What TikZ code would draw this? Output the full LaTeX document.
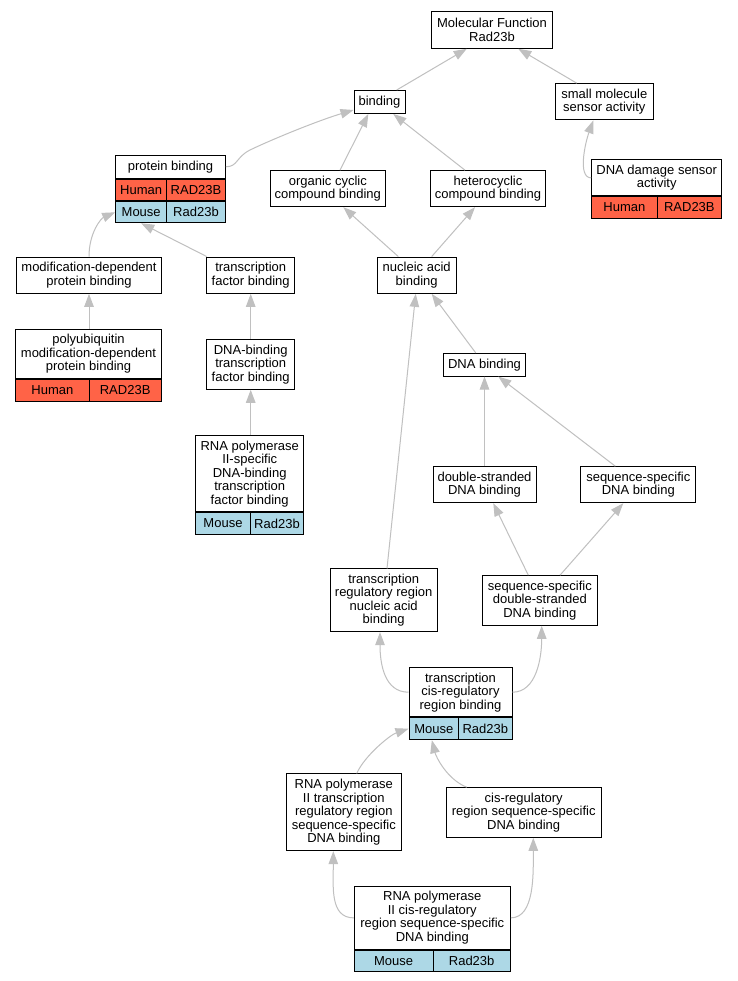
\documentclass[tikz,border=0pt]{standalone}
\usepackage{fontspec}
\setmainfont{Liberation Sans}
\usetikzlibrary{arrows.meta}
\definecolor{tomatoc}{RGB}{255,99,71}
\definecolor{lblue}{RGB}{173,216,230}
\definecolor{edgegray}{RGB}{192,192,192}
\newcommand\lbl{\fontsize{13}{13.5}\selectfont}
\tikzset{
  box/.style={draw=black, line width=1pt, fill=white, inner sep=0pt, align=center, font=\lbl},
  hum/.style={box, fill=tomatoc},
  mou/.style={box, fill=lblue},
  edge/.style={draw=edgegray, line width=1pt, -{Triangle[length=13pt,width=9.5pt]}},
}
\begin{document}
\begin{tikzpicture}[x=1pt,y=-1pt]
\useasboundingbox[fill=white] (0,0) rectangle (737,981);
% plain nodes
\node[box, minimum width=120.6pt, minimum height=36.6pt] (mf) at (492,30) {Molecular Function\\Rad23b};
\node[box, minimum width=51pt, minimum height=23pt] (bind) at (379.5,102) {binding};
\node[box, minimum width=98pt, minimum height=36.3pt] (sms) at (604.3,101.8) {small molecule\\sensor activity};
\node[box, minimum width=115pt, minimum height=36pt] (occ) at (327.8,188.7) {organic cyclic\\compound binding};
\node[box, minimum width=114.6pt, minimum height=36pt] (het) at (488,188.7) {heterocyclic\\compound binding};
\node[box, minimum width=144.6pt, minimum height=36.3pt] (mdpb) at (89,275.2) {modification-dependent\\protein binding};
\node[box, minimum width=88pt, minimum height=36.3pt] (tfb) at (250.7,275.2) {transcription\\factor binding};
\node[box, minimum width=79.3pt, minimum height=36.3pt] (nab) at (416.7,275.2) {nucleic acid\\binding};
\node[box, minimum width=88pt, minimum height=50pt] (dbtf) at (250.7,364.3) {DNA-binding\\transcription\\factor binding};
\node[box, minimum width=81.6pt, minimum height=22.7pt] (dnab) at (484.5,364.7) {DNA binding};
\node[box, minimum width=103pt, minimum height=36pt] (dsdb) at (484.5,484.7) {double-stranded\\DNA binding};
\node[box, minimum width=115.3pt, minimum height=36pt] (ssdb) at (638.3,484.7) {sequence-specific\\DNA binding};
\node[box, minimum width=106.7pt, minimum height=62.7pt] (trnab) at (383.7,600.3) {transcription\\regulatory region\\nucleic acid\\binding};
\node[box, minimum width=115pt, minimum height=49.6pt] (ssds) at (539.8,600.5) {sequence-specific\\double-stranded\\DNA binding};
\node[box, minimum width=115pt, minimum height=76.7pt] (rp2t) at (343.8,812.3) {RNA polymerase\\II transcription\\regulatory region\\sequence-specific\\DNA binding};
\node[box, minimum width=155.3pt, minimum height=49.6pt] (crss) at (523.7,812.5) {cis-regulatory\\region sequence-specific\\DNA binding};
% table nodes
\node[box, minimum width=109.6pt, minimum height=23pt] (pb) at (170.5,166.8) {protein binding};
\node[hum, minimum width=51pt, minimum height=21.5pt, anchor=north west] (pbh1) at (pb.south west) {Human};
\node[hum, minimum width=58.6pt, minimum height=21.5pt, anchor=north east] (pbh2) at (pb.south east) {RAD23B};
\node[mou, minimum width=51pt, minimum height=21pt, anchor=north west] (pbm1) at (pbh1.south west) {Mouse};
\node[mou, minimum width=58.6pt, minimum height=21pt, anchor=north east] (pbm2) at (pbh2.south east) {Rad23b};

\node[box, minimum width=130pt, minimum height=35.7pt] (dds) at (656.7,177.85) {DNA damage sensor\\activity};
\node[hum, minimum width=65.3pt, minimum height=21.6pt, anchor=north west] (ddsh1) at (dds.south west) {Human};
\node[hum, minimum width=64.7pt, minimum height=21.6pt, anchor=north east] (ddsh2) at (dds.south east) {RAD23B};

\node[box, minimum width=145.6pt, minimum height=49.7pt] (poly) at (88.5,353.85) {polyubiquitin\\modification-dependent\\protein binding};
\node[hum, minimum width=73.3pt, minimum height=21.3pt, anchor=north west] (polyh1) at (poly.south west) {Human};
\node[hum, minimum width=72.3pt, minimum height=21.3pt, anchor=north east] (polyh2) at (poly.south east) {RAD23B};

\node[box, minimum width=108pt, minimum height=76pt] (rp2s) at (249.7,473.7) {RNA polymerase\\II-specific\\DNA-binding\\transcription\\factor binding};
\node[mou, minimum width=54.6pt, minimum height=21.6pt, anchor=north west] (rp2sm1) at (rp2s.south west) {Mouse};
\node[mou, minimum width=53.4pt, minimum height=21.6pt, anchor=north east] (rp2sm2) at (rp2s.south east) {Rad23b};

\node[box, minimum width=103pt, minimum height=49pt] (tcrb) at (460.5,692.2) {transcription\\cis-regulatory\\region binding};
\node[mou, minimum width=49.7pt, minimum height=22pt, anchor=north west] (tcrbm1) at (tcrb.south west) {Mouse};
\node[mou, minimum width=53.3pt, minimum height=22pt, anchor=north east] (tcrbm2) at (tcrb.south east) {Rad23b};

\node[box, minimum width=156pt, minimum height=62.3pt] (rp2c) at (432.3,917.85) {RNA polymerase\\II cis-regulatory\\region sequence-specific\\DNA binding};
\node[mou, minimum width=78.7pt, minimum height=21.7pt, anchor=north west] (rp2cm1) at (rp2c.south west) {Mouse};
\node[mou, minimum width=77.3pt, minimum height=21.7pt, anchor=north east] (rp2cm2) at (rp2c.south east) {Rad23b};

% edges
\draw[edge] ([xshift=17.2pt]bind.north) -- ([xshift=-25.3pt]mf.south);
\draw[edge] ([xshift=-27.6pt]sms.north) -- ([xshift=26.3pt]mf.south);
\draw[edge] (dds.west) .. controls +(-14,0) and +(-8,22) .. ([xshift=-11pt]sms.south);
\draw[edge] (pb.east) .. controls +(12,0) and +(-14,7) .. (250,150) .. controls (275,138) and (320,120) .. ([yshift=-8pt]bind.west);
\draw[edge] ([xshift=12.2pt]occ.north) -- ([xshift=-11.2pt]bind.south);
\draw[edge] ([xshift=-23pt]het.north) -- ([xshift=13.8pt]bind.south);
\draw[edge] ([xshift=-18.4pt]nab.north) -- ([xshift=15.5pt]occ.south);
\draw[edge] ([xshift=15pt]nab.north) -- ([xshift=-13pt]het.south);
\draw[edge] (mdpb.north) .. controls +(0,-24) and +(-14,6) .. (pbm1.west);
\draw[edge] ([xshift=-44pt]tfb.north) -- (pbm1.south);
\draw[edge] (mdpb.south |- poly.north) -- (mdpb.south);
\draw[edge] (dbtf.north) -- (tfb.south);
\draw[edge] (dbtf.south |- rp2s.north) -- (dbtf.south);
\draw[edge] ([xshift=-8.8pt]dnab.north) -- ([xshift=15pt]nab.south);
\draw[edge] ([xshift=3.3pt]trnab.north) -- ([xshift=-1pt]nab.south);
\draw[edge] (dsdb.north) -- (dnab.south);
\draw[edge] ([xshift=-23pt]ssdb.north) -- ([xshift=13.8pt]dnab.south);
\draw[edge] ([xshift=-11.5pt]ssds.north) -- ([xshift=8.8pt]dsdb.south);
\draw[edge] ([xshift=20.2pt]ssds.north) -- ([xshift=-15pt]ssdb.south);
\draw[edge] (tcrb.west) .. controls +(-24,0) and +(0,32) .. ([xshift=-3.7pt]trnab.south);
\draw[edge] (tcrb.east) .. controls +(24,0) and +(0,32) .. ([xshift=1.9pt]ssds.south);
\draw[edge] ([xshift=12.9pt]rp2t.north) .. controls +(8,-18) and +(-18,6) .. (tcrbm1.west);
\draw[edge] ([xshift=-57pt]crss.north) .. controls +(-20,-8) and +(4,16) .. ([xshift=-2pt]tcrbm1.south);
\draw[edge] (rp2c.west) .. controls +(-24,0) and +(0,36) .. ([xshift=-10.5pt]rp2t.south);
\draw[edge] (rp2c.east) .. controls +(24,0) and +(0,36) .. ([xshift=9.6pt]crss.south);
\end{tikzpicture}
\end{document}
